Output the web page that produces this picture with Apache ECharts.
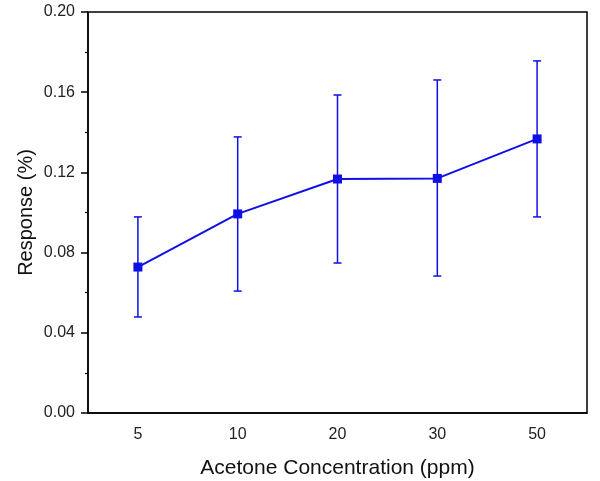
<!DOCTYPE html>
<html>
<head>
<meta charset="utf-8">
<script src="https://cdn.jsdelivr.net/npm/echarts@6/dist/echarts.min.js"></script>
<style>
  html, body { margin: 0; padding: 0; background: #fff; }
  #chart { width: 600px; height: 481px; }
</style>
</head>
<body>
<div id="chart"></div>
<script>
// acetone concentration vs response, with error bars
const categories = ['5', '10', '20', '30', '50'];
const response   = [0.0728, 0.0993, 0.1167, 0.1170, 0.1367];
const errLow     = [0.0479, 0.0608, 0.0748, 0.0683, 0.0978];
const errHigh    = [0.0978, 0.1377, 0.1586, 0.1661, 0.1756];
const yTicks     = [0, 0.04, 0.08, 0.12, 0.16, 0.20];

const blue = '#1010e6';
const font = 'Liberation Sans, Arial, sans-serif';

const errData = categories.map((c, i) => [i, errLow[i], errHigh[i]]);

let option = {
    animation: false,
    grid: {left: 88, right: 13, top: 12, bottom: 68, outerBoundsMode: 'none',
           show: true, borderColor: '#000', borderWidth: 1.5},
    xAxis: {
        type: 'category',
        data: categories,
        name: 'Acetone Concentration (ppm)',
        nameLocation: 'middle',
        nameGap: 45,
        nameMoveOverlap: false,
        nameTextStyle: {fontFamily: font, fontSize: 21, color: '#111'},
        axisLine: {lineStyle: {color: '#000', width: 1.5}},
        axisTick: {alignWithLabel: true, length: 5, lineStyle: {color: '#000', width: 1.5}},
        axisLabel: {fontFamily: font, fontSize: 16, color: '#222', margin: 14},
        splitLine: {show: false}
    },
    yAxis: {
        type: 'value',
        min: yTicks[0],
        max: yTicks[yTicks.length - 1],
        interval: 0.04,
        name: 'Response (%)',
        nameLocation: 'middle',
        nameGap: 52,
        nameMoveOverlap: false,
        nameTextStyle: {fontFamily: font, fontSize: 20, color: '#111'},
        axisLine: {show: true, lineStyle: {color: '#000', width: 1.5}},
        axisTick: {show: true, length: 7, lineStyle: {color: '#000', width: 1.5}},
        minorTick: {show: true, splitNumber: 2, length: 3, lineStyle: {color: '#000', width: 1.2}},
        axisLabel: {fontFamily: font, fontSize: 16, color: '#222', margin: 13,
                    formatter: v => v.toFixed(2)},
        splitLine: {show: false}
    },
    series: [
        {
            type: 'custom',
            data: errData,
            z: 3,
            renderItem: function (params, api) {
                const x = api.value(0);
                const lo = api.coord([x, api.value(1)]);
                const hi = api.coord([x, api.value(2)]);
                const w = 4;
                const st = {stroke: blue, lineWidth: 1.5};
                return {
                    type: 'group',
                    children: [
                        {type: 'line', shape: {x1: lo[0], y1: lo[1], x2: hi[0], y2: hi[1]}, style: st},
                        {type: 'line', shape: {x1: hi[0] - w, y1: hi[1], x2: hi[0] + w, y2: hi[1]}, style: st},
                        {type: 'line', shape: {x1: lo[0] - w, y1: lo[1], x2: lo[0] + w, y2: lo[1]}, style: st}
                    ]
                };
            }
        },
        {
            type: 'line',
            data: response,
            z: 4,
            symbol: 'rect',
            symbolSize: 9,
            lineStyle: {color: blue, width: 2},
            itemStyle: {color: blue}
        }
    ]
};

var chart = echarts.init(document.getElementById('chart'));
chart.setOption(option);
</script>
</body>
</html>
